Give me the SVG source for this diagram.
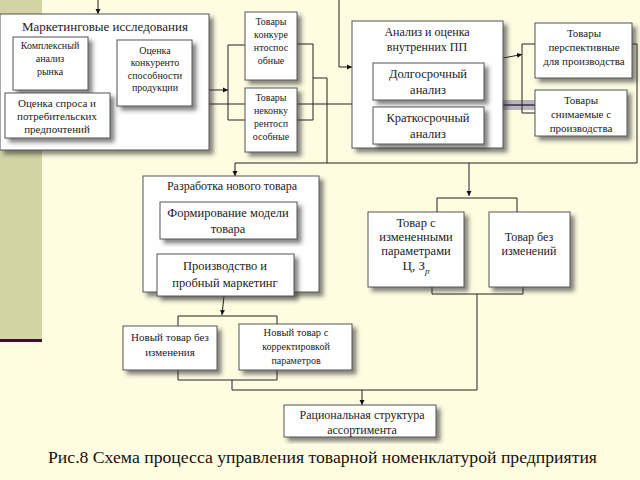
<svg xmlns="http://www.w3.org/2000/svg" width="640" height="480" viewBox="0 0 640 480" font-family="'Liberation Serif','Times New Roman',serif">
<defs>
<filter id="sh" x="-10%" y="-10%" width="130%" height="130%">
<feDropShadow dx="4" dy="4" stdDeviation="2" flood-color="#333" flood-opacity="0.6"/>
</filter>
<marker id="ar" markerWidth="6" markerHeight="6" refX="5" refY="3" orient="auto" markerUnits="userSpaceOnUse">
<path d="M0,0.5 L5,3 L0,5.5 z" fill="#111"/>
</marker>
<style>
.b{fill:#fff;stroke:#555;stroke-width:1;filter:url(#sh)}
.t{font-family:'Liberation Serif','Times New Roman',serif;fill:#222;text-anchor:middle}
.c{fill:none;stroke:#222;stroke-width:1}
</style>
</defs>
<rect x="0" y="0" width="640" height="480" fill="#FEFDE2"/>
<rect x="0" y="0" width="42" height="341" fill="#D4D3A3"/>
<rect x="0" y="339" width="42" height="3" fill="#3B0F2E"/>

<g id="connectors">
<path class="c" d="M98,0 V14" marker-end="url(#ar)"/>
<path class="c" d="M339,0 V67 H352" marker-end="url(#ar)"/>
<path class="c" d="M209,90 H228" marker-end="url(#ar)"/>
<path class="c" d="M245,45 H228 V120 H245"/>
<path class="c" d="M209,104 H352"/>
<path class="c" d="M297,44 H313 V120 H297"/>
<path class="c" d="M313,78 H327 V163"/>
<rect x="503" y="100" width="32" height="10" fill="#9a96a6" opacity="0.7"/>
<path d="M503,105 H535" stroke="#3a2a55" stroke-width="1.5" fill="none"/>
<path class="c" d="M503,58 L522,54.5" marker-end="url(#ar)"/>
<path class="c" d="M535,44 H522 V113 H535"/>
<path class="c" d="M632,44 H637 V163"/>
<path class="c" d="M235,163 H637"/>
<path class="c" d="M235,163 V176" marker-end="url(#ar)"/>
<path class="c" d="M469,163 V196" marker-end="url(#ar)"/>
<path class="c" d="M437,212 V198 H517 V212"/>
<path class="c" d="M432,287 V294 H523 V287"/>
<path class="c" d="M477,294 V390"/>
<path class="c" d="M224,296 L222,315" marker-end="url(#ar)"/>
<path class="c" d="M178,326 V316 H277 V324"/>
<path class="c" d="M178,370 V380 H277 V370"/>
<path class="c" d="M232,380 V390 H477"/>
<path class="c" d="M362,390 V405" marker-end="url(#ar)"/>
</g>

<g id="marketing">
<rect class="b" x="0" y="14" width="209" height="136"/>
<text class="t" x="105" y="31" font-size="13">Маркетинговые исследования</text>
</g>
<g id="complex">
<rect class="b" x="13" y="37" width="75" height="53"/>
<text class="t" x="50" y="49" font-size="10">Комплексный</text>
<text class="t" x="50" y="62" font-size="10">анализ</text>
<text class="t" x="50" y="75" font-size="10">рынка</text>
</g>
<g id="competitive">
<rect class="b" x="117" y="40" width="75" height="66"/>
<text class="t" x="155" y="54" font-size="10">Оценка</text>
<text class="t" x="155" y="66" font-size="10">конкуренто</text>
<text class="t" x="155" y="79" font-size="10">способности</text>
<text class="t" x="155" y="91" font-size="10">продукции</text>
</g>
<g id="demand">
<rect class="b" x="5" y="93" width="105" height="45"/>
<text class="t" x="57" y="107" font-size="11">Оценка спроса  и</text>
<text class="t" x="57" y="120" font-size="11">потребительских</text>
<text class="t" x="57" y="133" font-size="11">предпочтений</text>
</g>

<g id="goods-comp">
<rect class="b" x="245" y="12" width="52" height="68"/>
<text class="t" x="271" y="25" font-size="10">Товары</text>
<text class="t" x="271" y="38" font-size="10">конкуре</text>
<text class="t" x="271" y="51" font-size="10">нтоспос</text>
<text class="t" x="271" y="64" font-size="10">обные</text>
</g>
<g id="goods-noncomp">
<rect class="b" x="245" y="88" width="52" height="64"/>
<text class="t" x="271" y="101" font-size="10">Товары</text>
<text class="t" x="271" y="114" font-size="10">неконку</text>
<text class="t" x="271" y="127" font-size="10">рентосп</text>
<text class="t" x="271" y="140" font-size="10">особные</text>
</g>

<g id="analysis">
<rect class="b" x="352" y="21" width="151" height="127"/>
<text class="t" x="427" y="36" font-size="12">Анализ и оценка</text>
<text class="t" x="427" y="51" font-size="12">внутренних ПП</text>
</g>
<g id="long">
<rect class="b" x="373" y="63" width="111" height="37"/>
<text class="t" x="428" y="78" font-size="12.5">Долгосрочный</text>
<text class="t" x="428" y="94" font-size="12.5">анализ</text>
</g>
<g id="short">
<rect class="b" x="373" y="107" width="111" height="37"/>
<text class="t" x="428" y="122" font-size="12.5">Краткосрочный</text>
<text class="t" x="428" y="138" font-size="12.5">анализ</text>
</g>

<g id="perspective">
<rect class="b" x="535" y="23" width="97" height="55"/>
<text class="t" x="584" y="37" font-size="11">Товары</text>
<text class="t" x="584" y="51" font-size="11">перспективные</text>
<text class="t" x="584" y="65" font-size="11">для производства</text>
</g>
<g id="removed">
<rect class="b" x="535" y="90" width="92" height="46"/>
<text class="t" x="581" y="104" font-size="11">Товары</text>
<text class="t" x="581" y="118" font-size="11">снимаемые с</text>
<text class="t" x="581" y="132" font-size="11">производства</text>
</g>

<g id="development">
<rect class="b" x="143" y="176" width="176" height="116"/>
<text class="t" x="232" y="190" font-size="12">Разработка нового товара</text>
</g>
<g id="model">
<rect class="b" x="160" y="202" width="137" height="37"/>
<text class="t" x="228" y="217" font-size="12.5">Формирование модели</text>
<text class="t" x="228" y="233" font-size="12.5">товара</text>
</g>
<g id="production">
<rect class="b" x="157" y="254" width="137" height="42"/>
<text class="t" x="225" y="270" font-size="12.5">Производство и</text>
<text class="t" x="225" y="287" font-size="12.5">пробный маркетинг</text>
</g>

<g id="changed">
<rect class="b" x="368" y="212" width="96" height="75"/>
<text class="t" x="416" y="227" font-size="12.5">Товар с</text>
<text class="t" x="416" y="241" font-size="12.5">измененными</text>
<text class="t" x="416" y="255" font-size="12.5">параметрами</text>
<text class="t" x="416" y="270" font-size="13">Ц, З<tspan font-size="9" font-style="italic" dy="4">р</tspan></text>
</g>
<g id="unchanged">
<rect class="b" x="489" y="212" width="81" height="75"/>
<text class="t" x="529" y="241" font-size="12">Товар без</text>
<text class="t" x="529" y="255" font-size="12">изменений</text>
</g>

<g id="new-nochange">
<rect class="b" x="123" y="326" width="94" height="44"/>
<text class="t" x="170" y="341" font-size="11">Новый товар без</text>
<text class="t" x="170" y="356" font-size="11">изменения</text>
</g>
<g id="new-corrected">
<rect class="b" x="239" y="324" width="113" height="46"/>
<text class="t" x="296" y="336" font-size="10.5">Новый товар с</text>
<text class="t" x="296" y="350" font-size="10">корректировкой</text>
<text class="t" x="296" y="364" font-size="10">параметров</text>
</g>

<g id="rational">
<rect class="b" x="284" y="405" width="152" height="32"/>
<text class="t" x="362" y="419" font-size="12">Рациональная структура</text>
<text class="t" x="362" y="434" font-size="12">ассортимента</text>
</g>

<text x="48" y="463" font-family="'Liberation Serif','Times New Roman',serif" font-size="16.5" fill="#111" textLength="549" lengthAdjust="spacingAndGlyphs">Рис.8 Схема процесса управления товарной номенклатурой предприятия</text>
</svg>
